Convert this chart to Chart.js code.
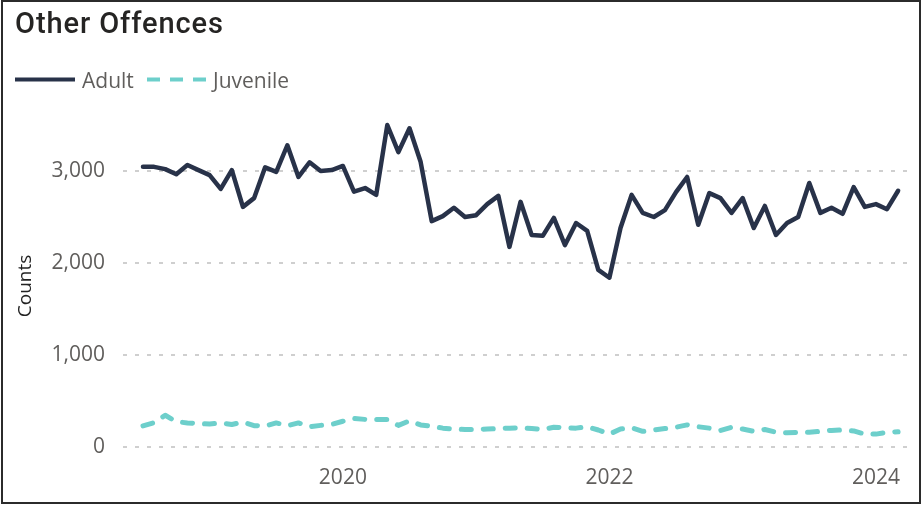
<!DOCTYPE html>
<html>
<head>
<meta charset="utf-8">
<script src="https://cdn.jsdelivr.net/npm/chart.js@4.4.1/dist/chart.umd.min.js"></script>
<style>
  html, body { margin: 0; padding: 0; background: #fff; }
  #wrap { position: relative; width: 922px; height: 505px; overflow: hidden; }
  #chart { position: absolute; left: 0; top: 0; }
  #frame { position: absolute; left: 1px; top: 0; width: 920px; height: 504px; box-sizing: border-box; border: 2px solid #2b2b2b; pointer-events: none; }
  #title { position: absolute; left: 15px; top: 9px; font: 500 29px Roboto, sans-serif; line-height: 29px; color: #252423; letter-spacing: 0.9px; white-space: nowrap; }
  .legend-text { position: absolute; top: 66px; font: 21px 'Open Sans', sans-serif; line-height: 28px; color: #605e5c; white-space: nowrap; }
  #swatches { position: absolute; left: 0; top: 0; }
</style>
</head>
<body>
<div id="wrap">
  <canvas id="chart" width="922" height="505"></canvas>
  <div id="title">Other Offences</div>
  <svg id="swatches" width="300" height="100">
    <line x1="15" y1="79.5" x2="75" y2="79.5" stroke="#283249" stroke-width="4"></line>
    <line x1="147" y1="79.5" x2="207" y2="79.5" stroke="#6dcfcb" stroke-width="4" stroke-dasharray="13 10"></line>
  </svg>
  <span class="legend-text" style="left:82px">Adult</span>
  <span class="legend-text" style="left:213px">Juvenile</span>
  <div id="frame"></div>
</div>
<script>
// monthly series, Jul 2018 .. Mar 2024
const startYear = 2018;
const startMonth = 7;

const adult = [
  3045, 3045, 3020, 2965, 3065, 3010,
  2955, 2805, 3010, 2610, 2705, 3040, 2990, 3280, 2935, 3095, 3000, 3010,
  3055, 2775, 2815, 2740, 3500, 3205, 3465, 3100, 2455, 2510, 2600, 2500,
  2520, 2640, 2730, 2175, 2665, 2305, 2295, 2490, 2195, 2435, 2350, 1925,
  1840, 2380, 2740, 2545, 2500, 2575, 2770, 2935, 2415, 2760, 2705, 2545,
  2705, 2380, 2620, 2305, 2435, 2500, 2870, 2545, 2600, 2535, 2825, 2610,
  2640, 2585, 2785
];

const juvenile = [
  230, 265, 345, 275, 262, 255,
  250, 262, 245, 272, 232, 228, 262, 232, 262, 220, 235, 245,
  280, 310, 300, 300, 300, 235, 285, 240, 225, 205, 195, 190,
  190, 195, 200, 205, 210, 200, 190, 215, 210, 205, 220, 185,
  140, 195, 210, 170, 185, 200, 215, 240, 220, 205, 180, 215,
  195, 170, 190, 160, 155, 160, 160, 170, 180, 185, 175, 140,
  140, 160, 165
];

const yTicks = [0, 1000, 2000, 3000];
const xTickLabels = ['2020', '2022', '2024'];

const months = adult.map((_, i) => {
  const m = startMonth - 1 + i;
  const y = startYear + Math.floor(m / 12);
  return y + '-' + String((m % 12) + 1).padStart(2, '0');
});

const toPoints = (arr) => arr.map((v, i) => ({ x: i, y: v }));

const tickFont = { family: "'Open Sans', sans-serif", size: 21 };
const grey = '#605e5c';

new Chart(document.getElementById('chart'), {
  type: 'line',
  data: {
    datasets: [
      {
        label: 'Adult',
        data: toPoints(adult),
        borderColor: '#283249',
        borderWidth: 4.5,
        borderJoinStyle: 'round',
        borderCapStyle: 'round',
        pointRadius: 0,
        tension: 0,
        clip: false,
      },
      {
        label: 'Juvenile',
        data: toPoints(juvenile),
        borderColor: '#6dcfcb',
        borderWidth: 5,
        borderDash: [10, 12],
        borderCapStyle: 'round',
        borderJoinStyle: 'round',
        pointRadius: 0,
        tension: 0,
        clip: false,
      },
    ],
  },
  options: {
    responsive: false,
    animation: false,
    layout: {
      padding: { top: 125, right: 15, bottom: 0, left: 0 },
    },
    plugins: {
      legend: { display: false },
      tooltip: { enabled: false },
    },
    scales: {
      x: {
        type: 'linear',
        min: -1.8,
        max: months.length - 1 + 0.8,
        grid: { display: false },
        border: { display: false },
        afterBuildTicks: (s) => {
          s.ticks = xTickLabels.map((l) => ({ value: months.indexOf(l + '-01') }));
        },
        afterFit: (s) => { s.height = 58; },
        ticks: {
          font: tickFont,
          color: grey,
          padding: 10,
          maxRotation: 0,
          autoSkip: false,
          callback: (v) => months[v].slice(0, 4),
        },
      },
      y: {
        min: 0,
        max: 3500,
        afterBuildTicks: (s) => {
          s.ticks = yTicks.map((v) => ({ value: v }));
        },
        afterFit: (s) => { s.width = 123; },
        grid: {
          color: '#cfcfcf',
          lineWidth: 2,
          drawTicks: false,
        },
        border: { display: false, dash: [4, 8] },
        ticks: {
          font: tickFont,
          color: grey,
          padding: 18,
          callback: (v) => v.toLocaleString('en-US'),
        },
        title: {
          display: true,
          text: 'Counts',
          color: '#222',
          font: { family: "'Open Sans', sans-serif", size: 19 },
          padding: { top: 14, bottom: 0 },
        },
      },
    },
  },
});
</script>
</body>
</html>
